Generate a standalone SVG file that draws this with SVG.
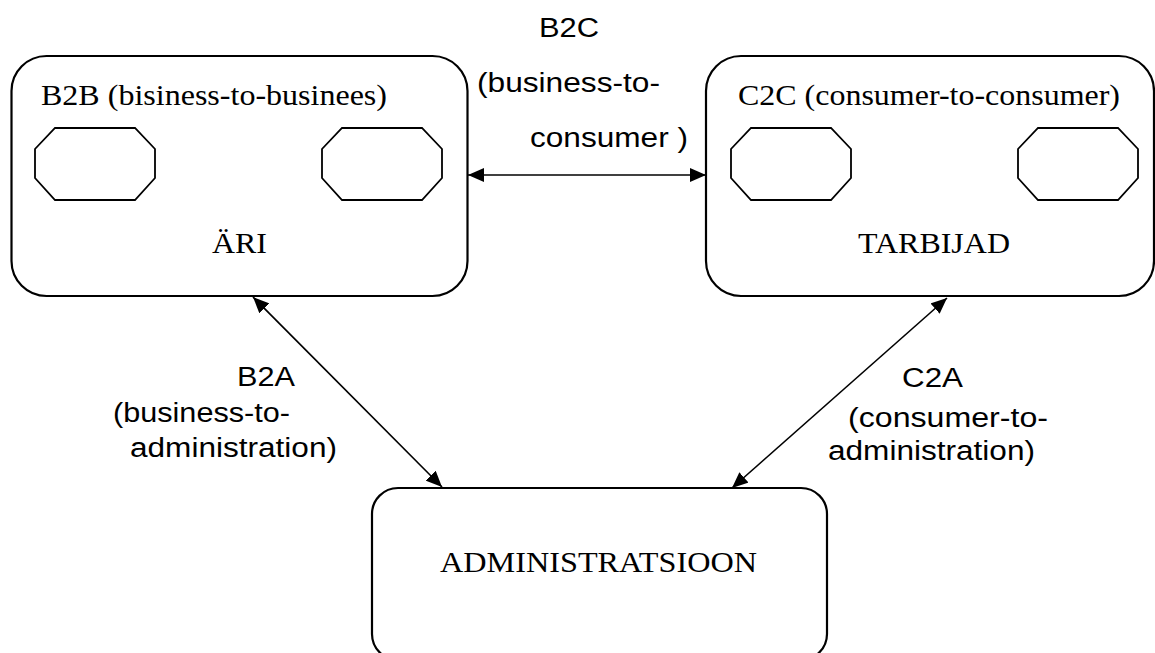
<svg xmlns="http://www.w3.org/2000/svg" xmlns:xlink="http://www.w3.org/1999/xlink" width="1155" height="653" viewBox="0 0 1155 653">
<style>
.box{fill:#fff;stroke:#000;stroke-width:2.2}
.oct{fill:#fff;stroke:#000;stroke-width:1.8}
.serif{font-family:"Liberation Serif","Times New Roman",serif;font-size:30px;fill:#000}
.sans{font-family:"Liberation Sans",Arial,sans-serif;font-size:27px;fill:#000}
.conn{stroke:#000;stroke-width:1.6;fill:none;marker-start:url(#ah);marker-end:url(#ah)}
</style>
<defs>
<marker id="ah" viewBox="0 0 16 14" refX="16" refY="7" markerWidth="16" markerHeight="14" markerUnits="userSpaceOnUse" orient="auto-start-reverse">
<path d="M0,0 L16,7 L0,14 Z" fill="#000"/>
</marker>
<polygon id="oct" class="oct" points="20,0 100,0 120,21 120,50 100,72 20,72 0,50 0,21"/>
</defs>
<rect width="1155" height="653" fill="#fff"/>
<g id="connectors">
<line class="conn" x1="468" y1="175" x2="706" y2="175"/>
<line class="conn" x1="253" y1="297" x2="442" y2="487"/>
<line class="conn" x1="947" y1="298" x2="732" y2="488"/>
</g>
<g id="node-ari">
<rect class="box" x="11.5" y="56" width="456" height="240" rx="35" ry="35"/>
<use xlink:href="#oct" href="#oct" x="35" y="128"/>
<use xlink:href="#oct" href="#oct" x="322" y="128"/>
<text class="serif" x="41" y="105" textLength="346" lengthAdjust="spacingAndGlyphs">B2B (bisiness-to-businees)</text>
<text class="serif" x="212" y="253" textLength="55" lengthAdjust="spacingAndGlyphs">ÄRI</text>
</g>
<g id="node-tarbijad">
<rect class="box" x="706" y="56" width="448" height="240" rx="35" ry="35"/>
<use xlink:href="#oct" href="#oct" x="731" y="128"/>
<use xlink:href="#oct" href="#oct" x="1018" y="128"/>
<text class="serif" x="738" y="105" textLength="382" lengthAdjust="spacingAndGlyphs">C2C (consumer-to-consumer)</text>
<text class="serif" x="858" y="253" textLength="152" lengthAdjust="spacingAndGlyphs">TARBIJAD</text>
</g>
<g id="node-admin">
<rect class="box" x="372" y="488" width="455" height="172" rx="26" ry="26"/>
<text class="serif" x="440" y="572" textLength="317" lengthAdjust="spacingAndGlyphs">ADMINISTRATSIOON</text>
</g>
<g id="labels">
<text class="sans" x="539" y="37" textLength="60" lengthAdjust="spacingAndGlyphs">B2C</text>
<text class="sans" x="477" y="92" textLength="183" lengthAdjust="spacingAndGlyphs">(business-to-</text>
<text class="sans" x="530" y="147" textLength="158" lengthAdjust="spacingAndGlyphs">consumer )</text>
<text class="sans" x="237" y="386" textLength="58" lengthAdjust="spacingAndGlyphs">B2A</text>
<text class="sans" x="113" y="422" textLength="177" lengthAdjust="spacingAndGlyphs">(business-to-</text>
<text class="sans" x="130" y="457" textLength="207" lengthAdjust="spacingAndGlyphs">administration)</text>
<text class="sans" x="902" y="387" textLength="61" lengthAdjust="spacingAndGlyphs">C2A</text>
<text class="sans" x="848" y="427" textLength="200" lengthAdjust="spacingAndGlyphs">(consumer-to-</text>
<text class="sans" x="828" y="460" textLength="207" lengthAdjust="spacingAndGlyphs">administration)</text>
</g>
</svg>
